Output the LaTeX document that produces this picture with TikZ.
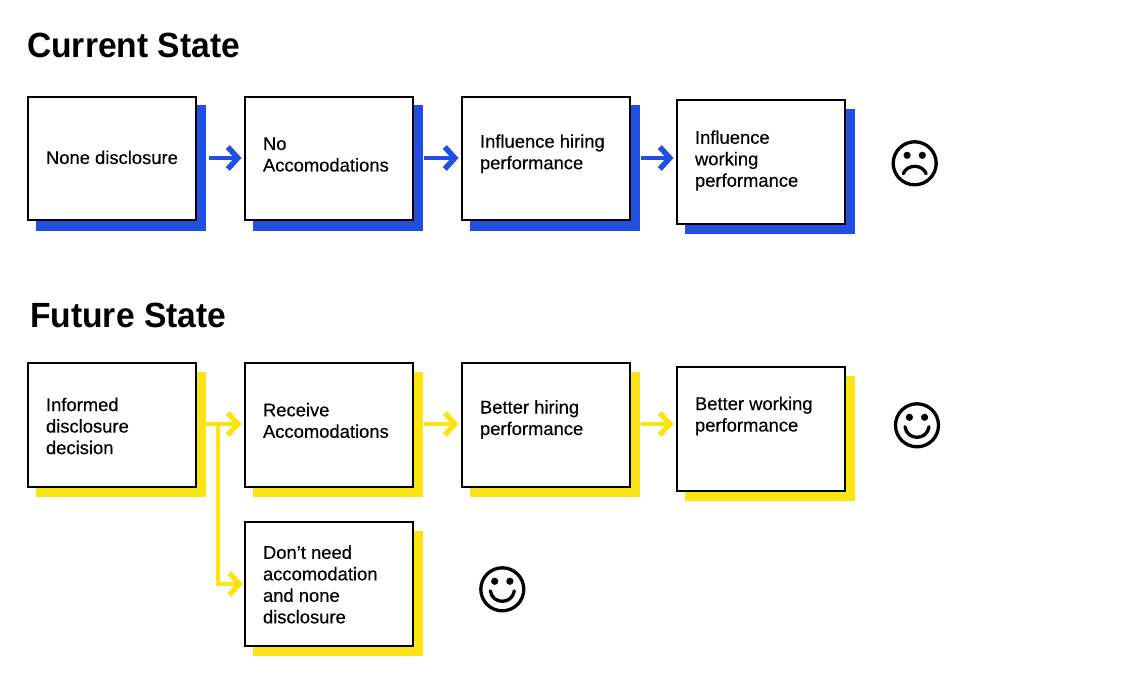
\documentclass[tikz,border=0pt]{standalone}
\usepackage{fontspec}
\setmainfont{Liberation Sans}
\newfontfamily\boxfont[FakeBold=0.25]{Liberation Sans}
\newfontfamily\titlefont[FakeStretch=0.96]{Liberation Sans}
\usetikzlibrary{arrows.meta,shadows}
\definecolor{bluec}{HTML}{214FE2}
\definecolor{yellowc}{HTML}{FBE414}
\newcommand{\boxtext}[2]{\smash{\raisebox{#1pt}{\parbox[c]{131pt}{\raggedright\boxfont\fontsize{18.4}{21.5}\selectfont #2}}}}
\newcommand{\faceparts}[1]{%
  \fill (#1.center) ++(-7.6,-8) circle[radius=3.6];
  \fill (#1.center) ++(7.6,-8) circle[radius=3.6];
}
\tikzset{
  card/.style={draw=black,fill=white,line width=2pt,minimum width=168pt,minimum height=123.5pt,inner sep=0pt,align=left},
  bluecard/.style={card,general shadow={fill=bluec,draw=bluec,line width=2pt,shadow xshift=9.5pt,shadow yshift=-9.3pt}},
  yellowcard/.style={card,general shadow={fill=yellowc,draw=yellowc,line width=2pt,shadow xshift=9.5pt,shadow yshift=-9.3pt}},
  conn/.style={line width=4.5pt,shorten >=2pt,-{Straight Barb[length=10pt,width=22pt,line width=5.5pt]}},
  blueconn/.style={conn,draw=bluec},
  yellowconn/.style={conn,draw=yellowc},
  title/.style={anchor=base west,inner sep=0pt,font=\titlefont\bfseries\fontsize{35}{35}\selectfont},
  face/.style={circle,draw=black,line width=3.3pt,minimum size=43pt,inner sep=0pt},
  mouth/.style={line width=3.3pt,line cap=round}
}
\begin{document}
\begin{tikzpicture}[x=1pt,y=-1pt]
\useasboundingbox (0,0) rectangle (1144,692);
\node[title] (t1) at (27,58) {Current State};
\node[title] (t2) at (30,328) {Future State};

\node[bluecard] (a1) at (111.5,158.7) {\boxtext{-1.2}{\mbox{None disclosure}}};
\node[bluecard] (a2) at (328.5,158.7) {\boxtext{1.7}{No\\Accomodations}};
\node[bluecard] (a3) at (545.5,158.7) {\boxtext{2.5}{Influence hiring\\performance}};
\node[bluecard] (a4) at (760.5,162) {\boxtext{-1}{Influence\\working\\performance}};

\node[yellowcard] (b1) at (111.5,425) {\boxtext{-3.5}{Informed\\disclosure\\decision}};
\node[yellowcard] (b2) at (328.5,425) {\boxtext{2}{Receive\\Accomodations}};
\node[yellowcard] (b3) at (545.5,425) {\boxtext{3}{Better hiring\\performance}};
\node[yellowcard] (b4) at (760.5,429) {\boxtext{10.5}{Better working\\performance}};
\node[yellowcard] (b5) at (328.5,584) {\boxtext{-3}{Don’t need\\accomodation\\and none\\disclosure}};

\coordinate (c1) at (209,158);
\coordinate (c2) at (424,158);
\coordinate (c3) at (641,158);
\coordinate (d1) at (204,424);
\coordinate (d2) at (424,424);
\coordinate (d3) at (641,424);
\coordinate (e1) at (218,424);

\draw[blueconn] (c1) -- (c1 -| a2.west);
\draw[blueconn] (c2) -- (c2 -| a3.west);
\draw[blueconn] (c3) -- (c3 -| a4.west);
\draw[yellowconn] (d1) -- (d1 -| b2.west);
\draw[yellowconn] (d2) -- (d2 -| b3.west);
\draw[yellowconn] (d3) -- (d3 -| b4.west);
\draw[yellowconn,shorten >=0.5pt] (e1) |- (b5.west);

\node[face] (f1) at (914.7,163.3) {};
\faceparts{f1}
\draw[mouth] (f1.center) ++(-11.5,10.5) .. controls +(4,-10) and +(-4,-10) .. +(23,0);
\node[face] (f2) at (917,425.3) {};
\faceparts{f2}
\draw[mouth] (f2.center) ++(-12,1.5) .. controls +(2,14) and +(-2,14) .. +(24,0);
\node[face] (f3) at (502.3,589.3) {};
\faceparts{f3}
\draw[mouth] (f3.center) ++(-12,1.5) .. controls +(2,14) and +(-2,14) .. +(24,0);
\end{tikzpicture}
\end{document}
